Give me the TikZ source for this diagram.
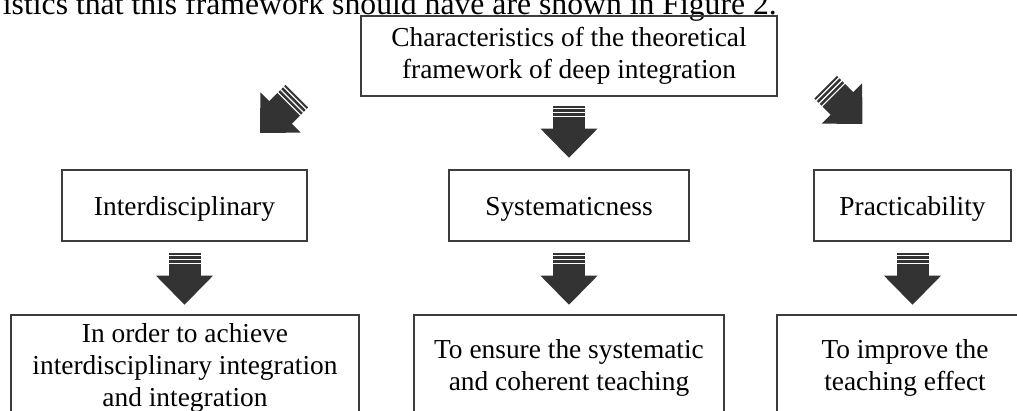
\documentclass[tikz,border=0pt]{standalone}
\usepackage{fontspec}
\setmainfont{Liberation Serif}
\usetikzlibrary{calc}
\definecolor{boxline}{HTML}{3C3C3C}
\definecolor{arrowfill}{HTML}{333333}
\tikzset{
  box/.style={draw=boxline, line width=1.4pt, align=center, inner sep=0pt,
    font=\fontsize{27.4}{32}\selectfont},
  levelbox/.style={box, minimum height=71pt, text height=25pt, text depth=6pt},
  resultbox/.style={box, minimum height=106pt},
  blockarrow/.pic={
    \fill[arrowfill] (-16,0) rectangle (16,2);
    \fill[arrowfill] (-16,3.5) rectangle (16,6);
    \fill[arrowfill] (-16,7.5) rectangle (16,10);
    \fill[arrowfill] (-16,11.5) rectangle (16,23.5);
    \fill[arrowfill] (-28.5,23) -- (28.5,23) -- (0,52) -- cycle;
  }
}
\begin{document}
\begin{tikzpicture}[x=1pt,y=-1pt]
\useasboundingbox (0,0) rectangle (1017,410);
\clip (0,0) rectangle (1017,410);
\node[anchor=base east, inner sep=0pt, font=\fontsize{31.7}{38}\selectfont] (cap) at (777,14)
  {istics that this framework should have are shown in Figure 2.};
\node[box, minimum width=416pt, minimum height=80pt] (top) at (569,56)
  {Characteristics of the theoretical\\framework of deep integration};
\node[levelbox, minimum width=245pt] (inter) at (184.5,205.5) {Interdisciplinary};
\node[levelbox, minimum width=240pt] (sys) at (569,205.5) {Systematicness};
\node[levelbox, minimum width=197pt] (prac) at (912.5,205.5) {Practicability};
\node[resultbox, minimum width=348pt] (res1) at (185,368)
  {In order to achieve\\interdisciplinary integration\\and integration};
\node[resultbox, minimum width=310pt] (res2) at (569,368)
  {To ensure the systematic\\and coherent teaching};
\node[resultbox, minimum width=256pt] (res3) at (905,368)
  {To improve the\\teaching effect};
\pic[rotate=-45] at ($(top.south west)+(-63.5,-0.5)$) {blockarrow};
\pic at ($(top.south)+(0,9)$) {blockarrow};
\pic[rotate=45] at ($(top.south east)+(48,-9.5)$) {blockarrow};
\pic at ($(inter.south)+(0,11)$) {blockarrow};
\pic at ($(sys.south)+(0,11)$) {blockarrow};
\pic at ($(prac.south)+(0,11)$) {blockarrow};
\end{tikzpicture}
\end{document}
